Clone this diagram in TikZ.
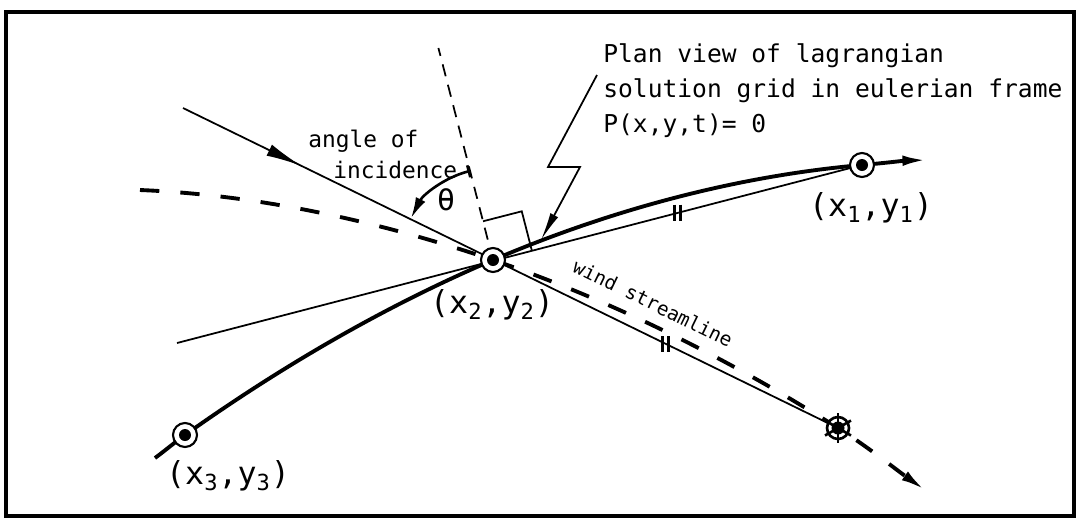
\documentclass[tikz,border=0pt]{standalone}
\usepackage{fontspec}
\setmainfont{DejaVu Sans Mono}
\usetikzlibrary{arrows.meta,calc,decorations.markings}

\begin{document}
\begin{tikzpicture}[x=0.02cm,y=0.02cm,
  thinline/.style={line width=1pt},
  heavyline/.style={line width=2.2pt},
  heavydash/.style={line width=2.2pt, dash pattern=on 11pt off 12pt},
  normaldash/.style={line width=1pt, dash pattern=on 7pt off 5pt},
  headarrow/.style={-{Latex[length=14pt,width=6pt]}},
  pointmark/.style={circle, draw, fill=white, line width=1.2pt, minimum size=0.48cm, inner sep=0pt},
  coordlabel/.style={font=\fontsize{18}{20}\selectfont, inner sep=0pt},
  notetext/.style={font=\fontsize{14}{20}\selectfont, inner sep=0pt, align=left}]
\fill[white] (0,0) rectangle (1078,-522);
\draw[line width=2pt] (6,-12) rectangle (1074,-516);
\coordinate (c1) at (862,-165);
\coordinate (c2) at (493,-260);
\coordinate (c3) at (185,-435);
\coordinate (sink) at (838,-428);
\coordinate (crvstart) at (155,-458);
\coordinate (crvend) at (927,-160);
\coordinate (dstart) at (140,-190);
\coordinate (dend) at (925,-490);
\coordinate (incstart) at (183,-108);
\coordinate (chordstart) at (177,-343);
\coordinate (ldstart) at (597,-75);
\coordinate (ldtip) at (541,-240);
\coordinate (nrmtop) at ($(c2)!4.38cm!90:(c1)$);
\coordinate (m1) at ($(c2)!0.5!(c1)$);
\coordinate (m2) at ($(c2)!0.5!(sink)$);
\draw[thinline] (chordstart) -- (c1);
\draw[thinline, postaction={decorate}, decoration={markings, mark=at position 0.18 with {\arrow{Latex[length=20pt,width=7pt]}}}] (incstart) -- (sink);
\draw[normaldash] (c2) -- (nrmtop);
\draw[heavyline, headarrow, looseness=0.85] (crvstart) to[out=36.4,in=215.4] (c3) to[out=35.4,in=203.1] (c2) to[out=23.1,in=185] (c1) to[out=5,in=181.6] (crvend);
\draw[heavydash, headarrow, looseness=0.85] (dstart) to[out=-2.4,in=161.2] (c2) to[out=-18.8,in=147.7] (sink) to[out=-32.3,in=144.8] (dend);
\coordinate (ra) at ($(c2)!0.8cm!(c1)$);
\coordinate (rb) at ($(c2)!0.8cm!(nrmtop)$);
\draw[thinline] (ra) -- ($(ra)+(rb)-(c2)$) -- (rb);
\draw[line width=1.5pt, {Bar[width=7pt]}-{Latex[length=12pt,width=6pt]}] ($(c2)!1.84cm!(nrmtop)$) arc[start angle=104.4, end angle=153, radius=1.84cm];
\draw[thinline, -{Latex[length=16pt,width=5pt]}] (ldstart) -- ++(-49,-92) -- ++(32,0) -- (ldtip);
\foreach \m in {m1,m2}
  \foreach \dx in {-3,3}
    \draw[line width=1.2pt] ([shift={(\dx,8)}]\m) -- ([shift={(\dx,-8)}]\m);
\node[pointmark] (p1) at (c1) {};
\node[pointmark] (p2) at (c2) {};
\node[pointmark] (p3) at (c3) {};
\foreach \p in {p1,p2,p3}
  \fill (\p.center) circle (0.12cm);
\node[circle, draw, fill=white, line width=1.5pt, minimum size=0.44cm, inner sep=0pt] (wheel) at (sink) {};
\foreach \a in {30,90,...,330}
  \draw[line width=1.5pt] (wheel.center) -- ++(\a:15);
\fill (wheel.center) circle (0.13cm);
\node[notetext, anchor=north west] (notes) at (603,-43) {Plan view of lagrangian\\solution grid in eulerian frame\\P(x,y,t)= 0};
\node[coordlabel] (l1) at (871,-208) {(x\textsubscript{1},y\textsubscript{1})};
\node[coordlabel] (l2) at (492,-305) {(x\textsubscript{2},y\textsubscript{2})};
\node[coordlabel] (l3) at (228,-476) {(x\textsubscript{3},y\textsubscript{3})};
\node[font=\fontsize{13}{15}\selectfont, anchor=base west, inner sep=0pt] (anga) at (308,-147) {angle of};
\node[font=\fontsize{13}{15}\selectfont, anchor=base west, inner sep=0pt] (angb) at (333,-178) {incidence};
\node[font=\fontsize{17}{20}\selectfont, inner sep=0pt] (theta) at (446,-200) {θ};
\node[font=\fontsize{11}{13}\selectfont, rotate=-26, inner sep=0pt] (wind) at (653,-303) {wind streamline};
\end{tikzpicture}
\end{document}
